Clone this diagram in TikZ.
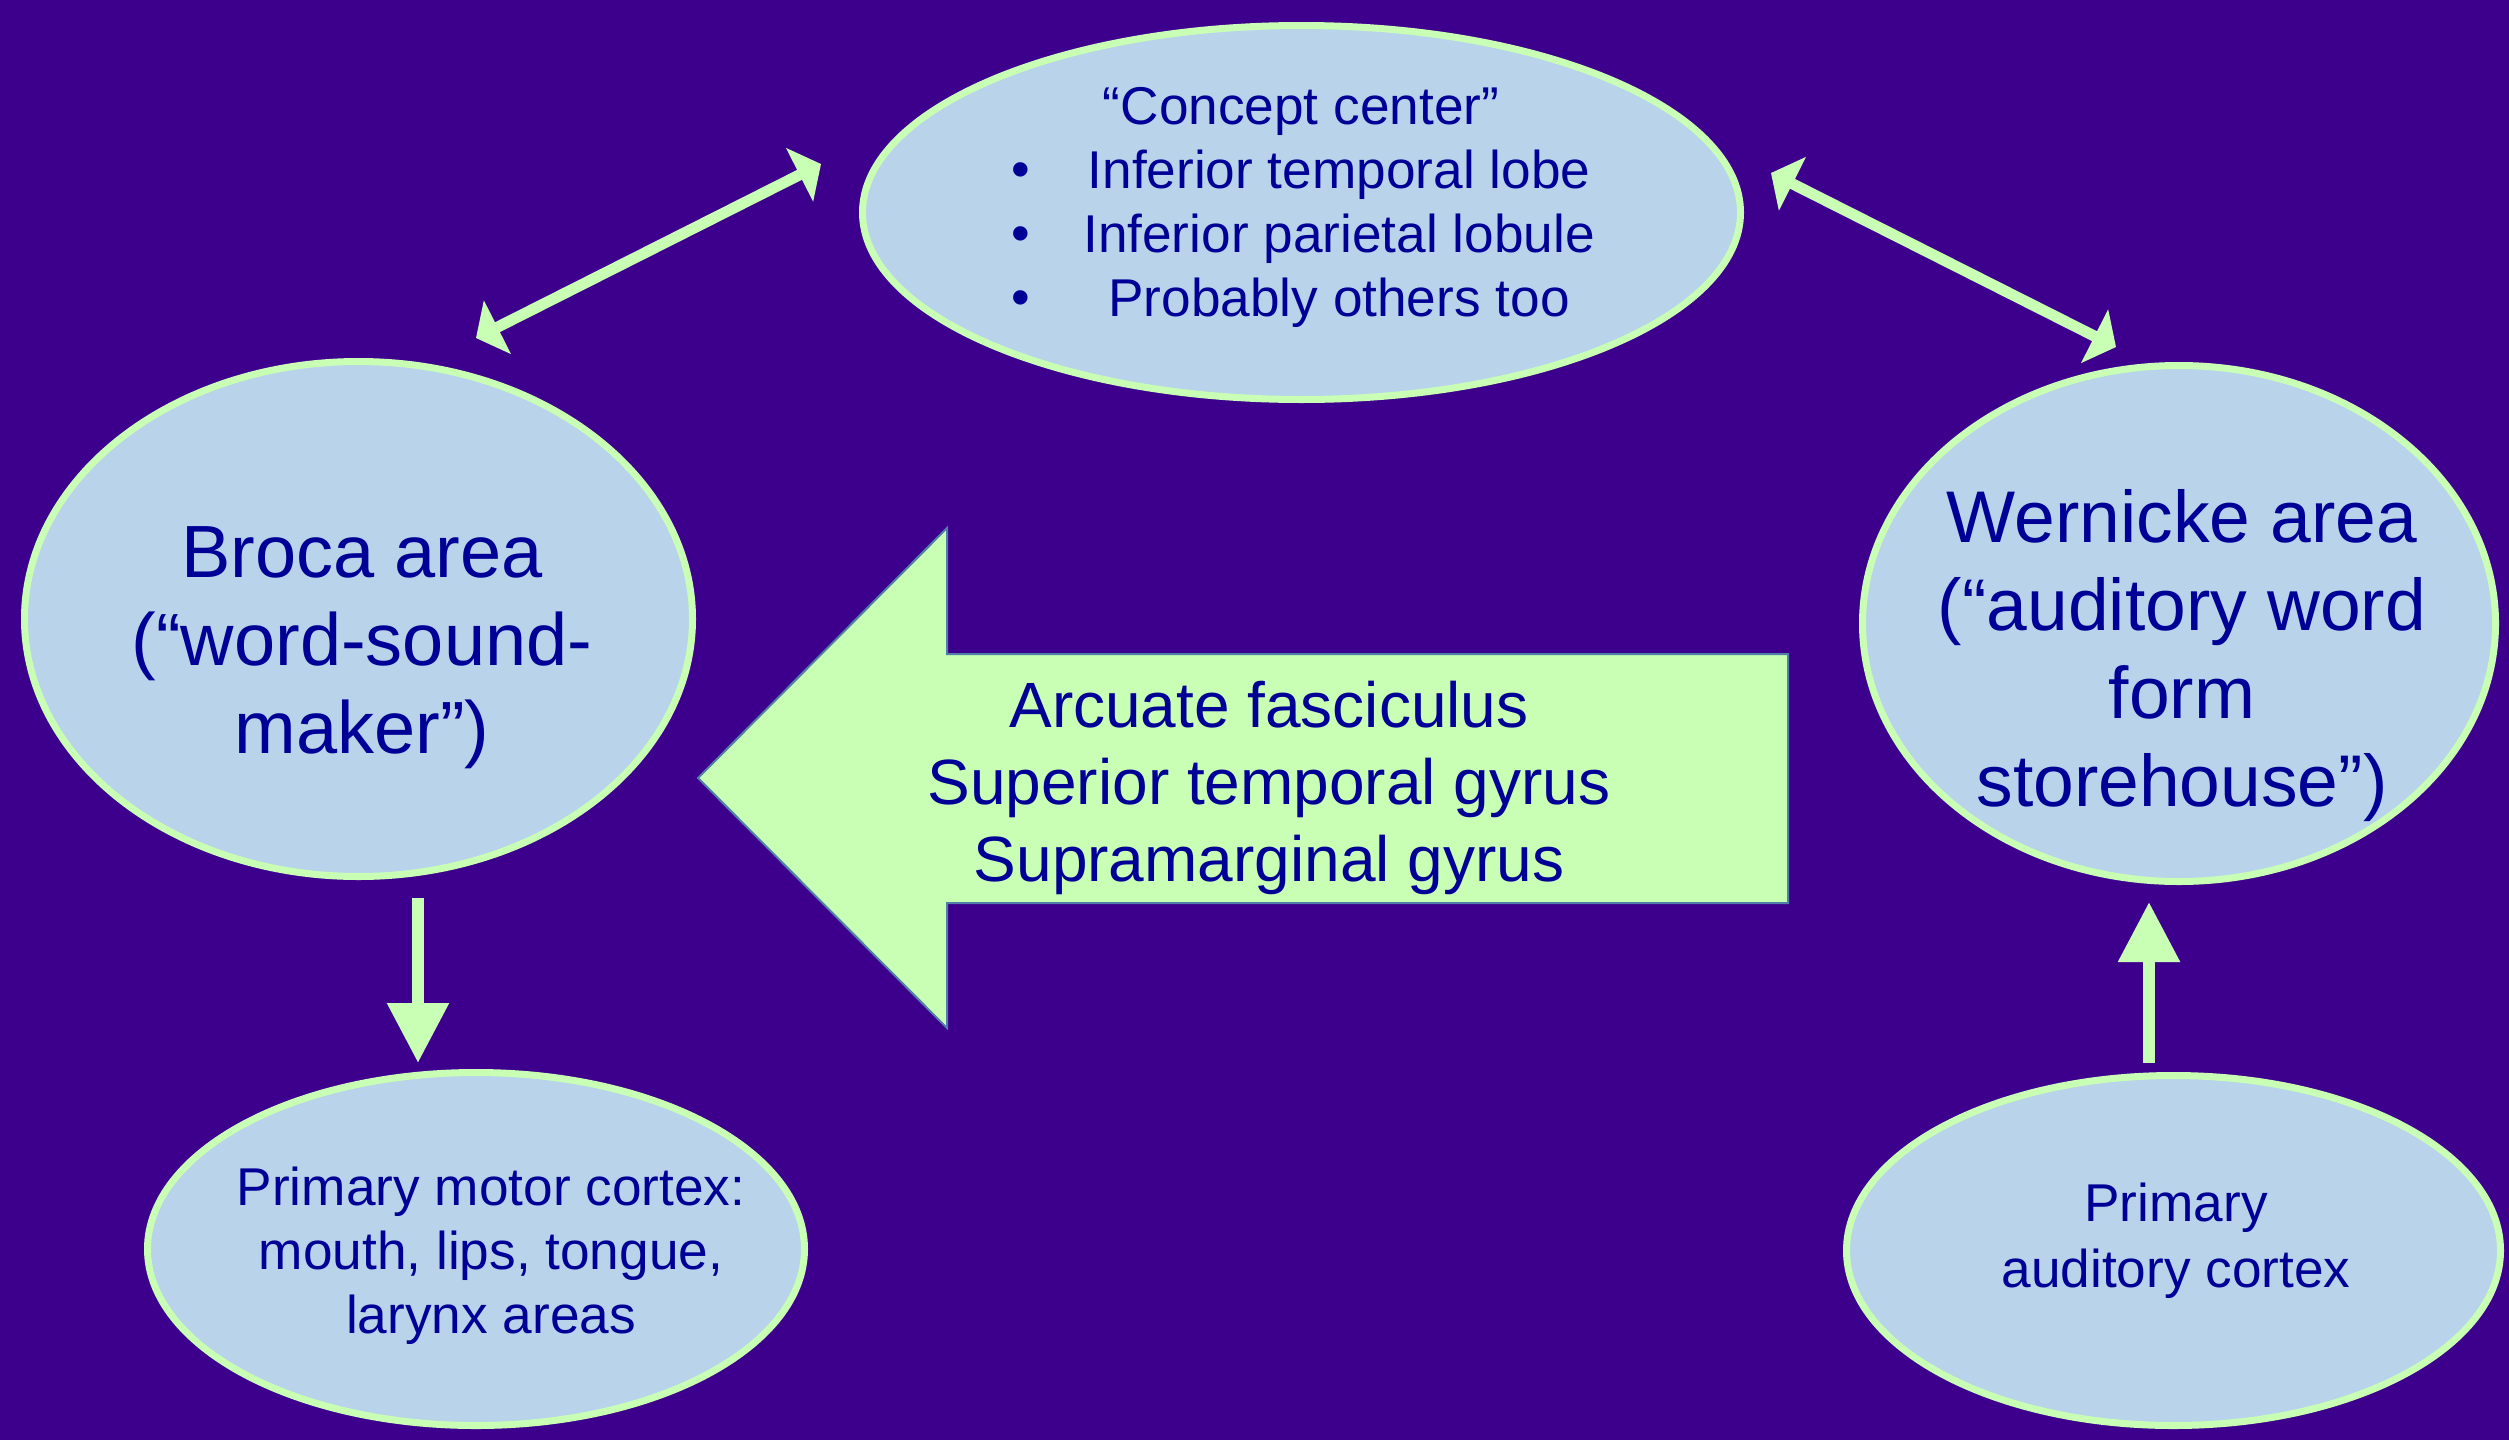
\documentclass[tikz,border=0pt]{standalone}
\usepackage{fontspec}
\setmainfont{Liberation Sans}
\usetikzlibrary{shapes.geometric,arrows.meta}
\definecolor{bgc}{HTML}{3D008D}
\definecolor{ellF}{HTML}{B8D3EA}
\definecolor{ellB}{HTML}{C8FFB4}
\definecolor{arrF}{HTML}{C8FFB4}
\definecolor{arrB}{HTML}{4F7FA8}
\definecolor{txt}{HTML}{000096}
\begin{document}
\begin{tikzpicture}[x=0.5pt,y=-0.5pt,
  ell/.style={ellipse, draw=ellB, fill=ellF, line width=3.5pt, inner sep=0pt},
  bigtxt/.style={text=txt, align=center, font=\fontsize{37}{44}\selectfont, inner sep=0pt},
  midtxt/.style={text=txt, align=center, font=\fontsize{32}{38.5}\selectfont, inner sep=0pt},
  smalltxt/.style={text=txt, align=center, font=\fontsize{26.6}{32}\selectfont, inner sep=0pt},
  diag/.style={draw=arrF, line width=5.5pt, {Triangle[width=29.5pt,length=12pt]}-{Triangle[width=29.5pt,length=12pt]}},
  vert/.style={draw=arrF, line width=6pt, -{Triangle[width=29.5pt,length=30pt]}}
]
\fill[bgc] (0,0) rectangle (2509,1440);
\useasboundingbox (0,0) rectangle (2509,1440);

% ellipses
\node[ell, minimum width=439pt, minimum height=187pt] (concept) at (1301.5,212.5) {};
\node[ell, minimum width=334pt, minimum height=257.5pt] (broca) at (358.5,619) {};
\node[ell, minimum width=316.5pt, minimum height=258pt] (wern) at (2179,623.5) {};
\node[ell, minimum width=328.5pt, minimum height=176.5pt] (motor) at (476,1249) {};
\node[ell, minimum width=327pt, minimum height=175pt] (aud) at (2173.5,1250.5) {};

% concept text
\node[smalltxt] (c0) at (1301,111) {“Concept center”};
\node[smalltxt] (b1) at (1021,175) {•};
\node[smalltxt] (c1) at (1339,175) {Inferior temporal lobe};
\node[smalltxt] (b2) at (1021,239) {•};
\node[smalltxt] (c2) at (1339,239) {Inferior parietal lobule};
\node[smalltxt] (b3) at (1021,303) {•};
\node[smalltxt] (c3) at (1339,303) {Probably others too};

% broca / wernicke text
\node[bigtxt] (brocaT) at (362,648) {Broca area\\(“word-sound-\\maker”)};
\node[bigtxt, font=\fontsize{36.6}{44}\selectfont] (wernT) at (2182,656) {Wernicke area\\(“auditory word\\form\\storehouse”)};

% small ellipse texts
\node[smalltxt] (motorT) at (491,1256) {Primary motor cortex:\\mouth, lips, tongue,\\larynx areas};
\node[smalltxt, font=\fontsize{26.6}{33}\selectfont] (audT) at (2176,1241) {Primary\\auditory cortex};

% big arrow
\draw[fill=arrF, draw=arrB, line width=1pt, line join=miter]
  (698,778) -- (947,528) -- (947,654) -- (1788,654) -- (1788,903) -- (947,903) -- (947,1028) -- cycle;
\node[midtxt] (arcT) at (1269,788) {Arcuate fasciculus\\Superior temporal gyrus\\Supramarginal gyrus};

% connectors
\coordinate (l1) at (476,338);
\coordinate (l2) at (821,164);
\coordinate (r1) at (1771,173);
\coordinate (r2) at (2116,347);
\coordinate (d1) at (418,898);
\coordinate (d2) at (418,1063);
\coordinate (u1) at (2149,1063);
\coordinate (u2) at (2149,902);
\draw[diag] (l1) -- (l2);
\draw[diag] (r1) -- (r2);
\draw[vert] (d1) -- (d2);
\draw[vert] (u1) -- (u2);
\end{tikzpicture}
\end{document}
